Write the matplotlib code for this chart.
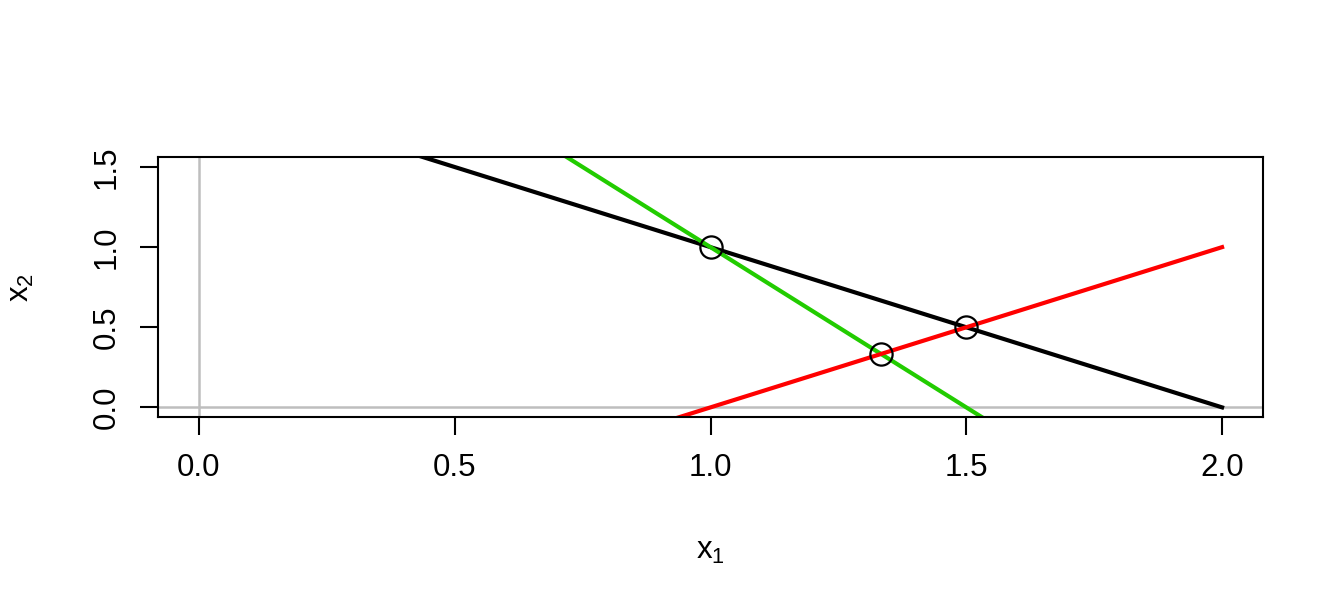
import numpy as np
import matplotlib.pyplot as plt

plt.rcParams['font.family'] = ['Liberation Sans', 'DejaVu Sans']
plt.rcParams['mathtext.fontset'] = 'custom'
plt.rcParams['mathtext.rm'] = 'Liberation Sans'
plt.rcParams['mathtext.it'] = 'Liberation Sans'

# constraint lines: a*x1 + b*x2 = c, drawn for x1 in [0, 2]
x_range = [0.0, 2.0]
a_coef = [1.0, 2.0, 1.0]
b_coef = [1.0, 1.0, -1.0]
c_coef = [2.0, 3.0, 1.0]
line_colors = ['black', '#22CC00', '#FF0000']

# corner points
px = [1.0, 1.5, 4 / 3]
py = [1.0, 0.5, 1 / 3]

x_ticks = [0.0, 0.5, 1.0, 1.5, 2.0]
y_ticks = [0.0, 0.5, 1.0, 1.5]

fig = plt.figure(figsize=(13.44, 6.14), dpi=100)
ax = fig.add_axes([158 / 1344, 1 - 417 / 614, (1263 - 158) / 1344, (417 - 157) / 614])

ax.axhline(0, color='#BEBEBE', lw=1.8, zorder=1)
ax.axvline(0, color='#BEBEBE', lw=1.8, zorder=1)

xs = np.array(x_range)
for a, b, c, col in zip(a_coef, b_coef, c_coef, line_colors):
    ax.plot(xs, (c - a * xs) / b, color=col, lw=3, zorder=2)

ax.plot(px, py, 'o', ms=16, mfc='none', mec='black', mew=1.6, zorder=3)

ax.set_xlim(-0.08, 2.08)
ax.set_ylim(-0.06, 1.5625)
ax.set_xticks(x_ticks)
ax.set_xticklabels([f'{v:.1f}' for v in x_ticks])
ax.set_yticks(y_ticks)
ax.set_yticklabels([f'{v:.1f}' for v in y_ticks], rotation=90, va='center')
ax.tick_params(labelsize=22.5, length=13, width=1.5, pad=13)
for s in ax.spines.values():
    s.set_linewidth(1.5)

ax.set_xlabel(r'$\mathrm{x}_1$', fontsize=22.5, labelpad=38)
ax.set_ylabel(r'$\mathrm{x}_2$', fontsize=22.5, labelpad=40)

fig.savefig('out.png', dpi=100)
